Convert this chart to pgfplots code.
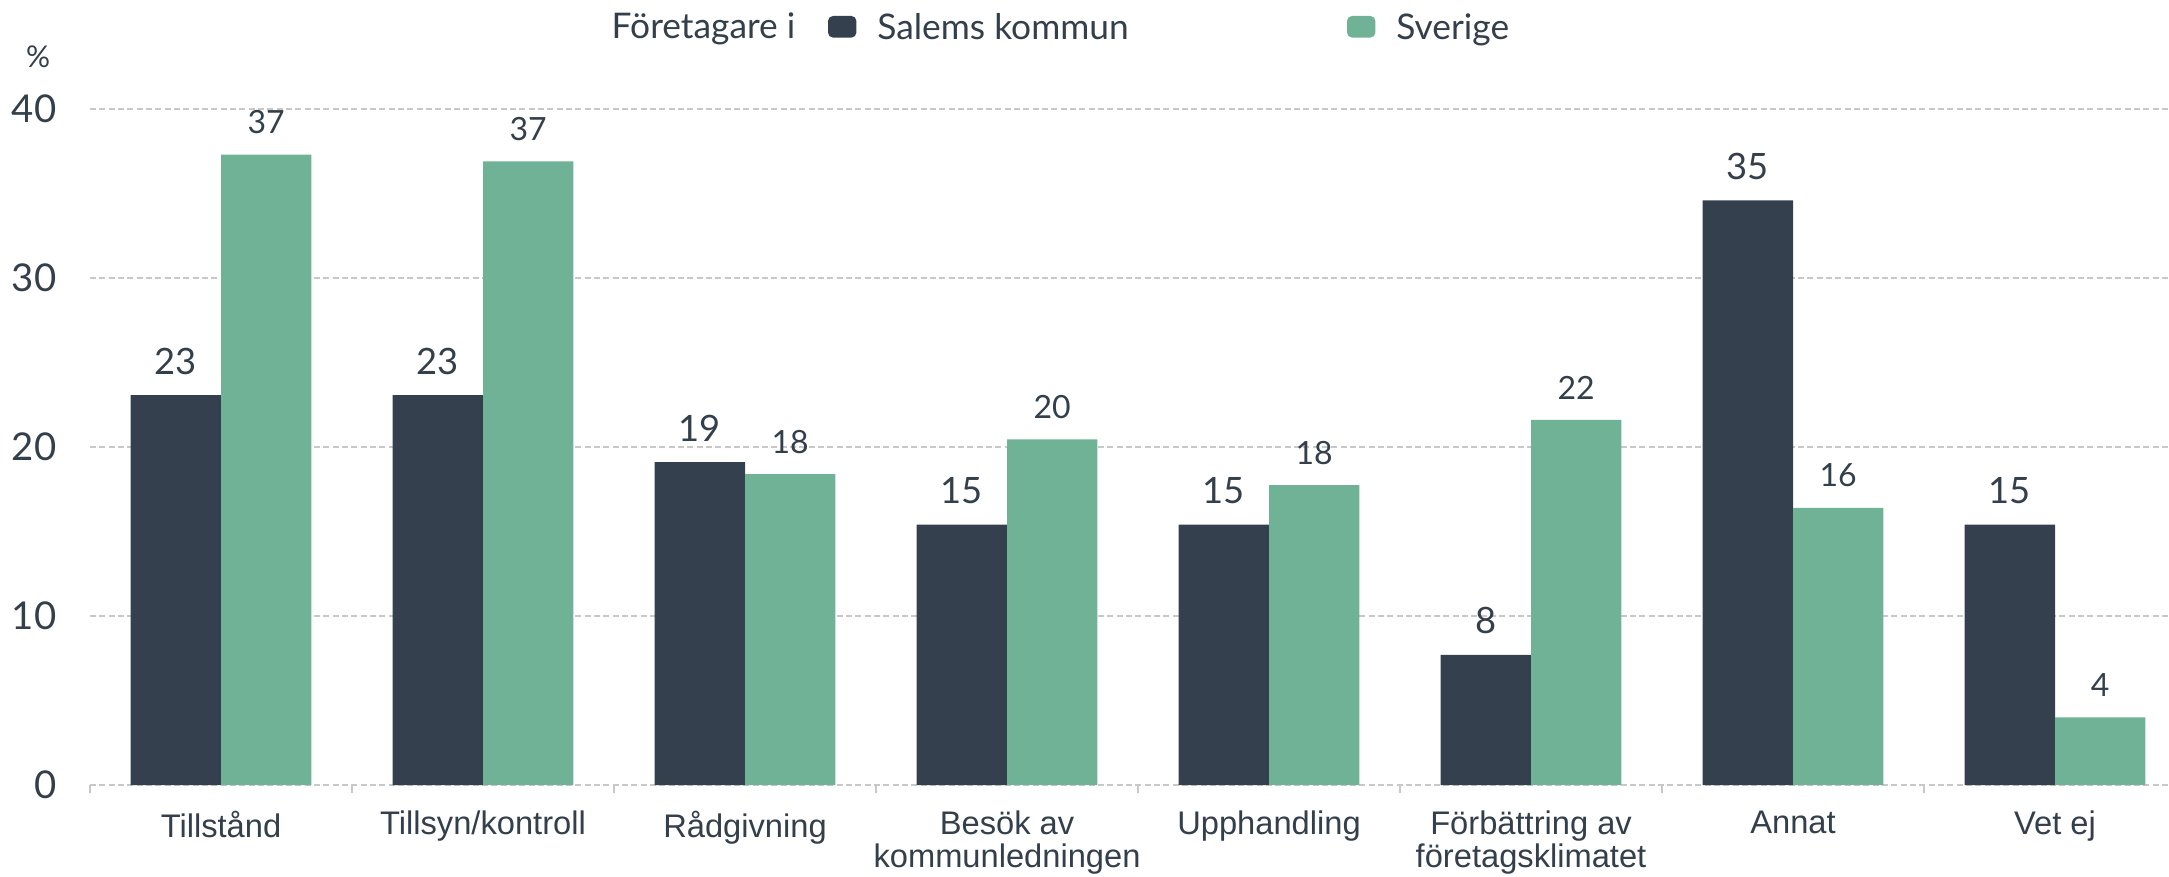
\documentclass[border=0pt]{standalone}
\usepackage{pgfplots}
\pgfplotsset{compat=1.18}
\usepackage{fontspec}
\setmainfont{Liberation Sans}
\newfontfamily\lato{Lato}
\definecolor{dark}{HTML}{34404E}
\definecolor{sgreen}{HTML}{70B296}
\definecolor{txt}{HTML}{333F4B}
\definecolor{gridc}{HTML}{C8C8C8}
\begin{document}
\begin{tikzpicture}
\path[use as bounding box] (-27pt,-27.3pt) rectangle (623.7pt,235.5pt);
\begin{axis}[
  at={(0pt,0pt)}, anchor=south west,
  width=623.7pt, height=202.8pt, scale only axis,
  xmin=-0.5, xmax=7.435, ymin=0, ymax=40,
  clip=false,
  axis line style={draw=none},
  ytick={0,10,20,30,40},
  xtick={0,...,7},
  xticklabels={Tillstånd, Tillsyn/kontroll, Rådgivning, {Besök av\\kommunledningen}, Upphandling, {Förbättring av\\företagsklimatet}, Annat, Vet ej},
  minor xtick={-0.5,0.5,...,6.5},
  xtick pos=bottom, ytick pos=left,
  tick align=outside,
  major tick length=0pt,
  minor tick length=2.4pt,
  minor tick style={gridc, line width=0.4pt},
  ymajorgrids,
  grid style={gridc, line width=0.4pt, dash pattern=on 1.8pt off 1pt},
  /pgf/number format/assume math mode=true,
  yticklabel style={font=\lato\fontsize{11.5}{12}\selectfont, text=txt, inner sep=0pt, xshift=-9.9pt},
  xticklabel style={font=\fontsize{9.8}{9.9}\selectfont, text=txt, align=center, anchor=north, inner sep=0pt, yshift=-7.5pt},
  legend columns=-1,
  legend style={at={(axis description cs:0.355,1.095)}, anchor=south west, draw=none, fill=none, inner sep=0pt, outer sep=0pt, font=\lato\fontsize{10.6}{11}\selectfont, text=txt, nodes={inner sep=0pt}},
]
\addplot[ybar, bar width=0.345, bar shift=-0.1725, fill=dark, draw=none,
  legend image code/.code={\fill[dark, rounded corners=1.5pt] (0pt,-2.5pt) rectangle (8.5pt,4pt);},
  nodes near coords={\pgfmathprintnumber[fixed,precision=0]{\pgfplotspointmeta}},
  nodes near coords style={font=\lato\fontsize{10.9}{11}\selectfont, text=txt, anchor=south, inner sep=0pt, yshift=6pt, xshift=-13.56pt}]
  coordinates {(0,23.07) (1,23.07) (2,19.1) (3,15.4) (4,15.4) (5,7.7) (6,34.6) (7,15.4)};
\addlegendentry{\hspace*{6.3pt}\makebox[140.9pt][l]{Salems kommun}}
\addplot[ybar, bar width=0.345, bar shift=0.1725, fill=sgreen, draw=none,
  legend image code/.code={\fill[sgreen, rounded corners=1.5pt] (0pt,-2.5pt) rectangle (8.5pt,4pt);},
  nodes near coords={\pgfmathprintnumber[fixed,precision=0]{\pgfplotspointmeta}},
  nodes near coords style={font=\lato\fontsize{9.6}{10}\selectfont, text=txt, anchor=south, inner sep=0pt, yshift=6pt, xshift=13.56pt}]
  coordinates {(0,37.3) (1,36.9) (2,18.4) (3,20.45) (4,17.75) (5,21.6) (6,16.4) (7,4.0)};
\addlegendentry{\hspace*{6.3pt}Sverige}
\node[anchor=base east, font=\lato\fontsize{10.6}{11}\selectfont, text=txt, inner sep=0pt] at (axis description cs:0.3396,1.105) {Företagare i};
\node[font=\lato\fontsize{9}{10}\selectfont, text=txt, inner sep=0pt] at (axis description cs:-0.025,1.077) {\%};
\end{axis}
\end{tikzpicture}
\end{document}
